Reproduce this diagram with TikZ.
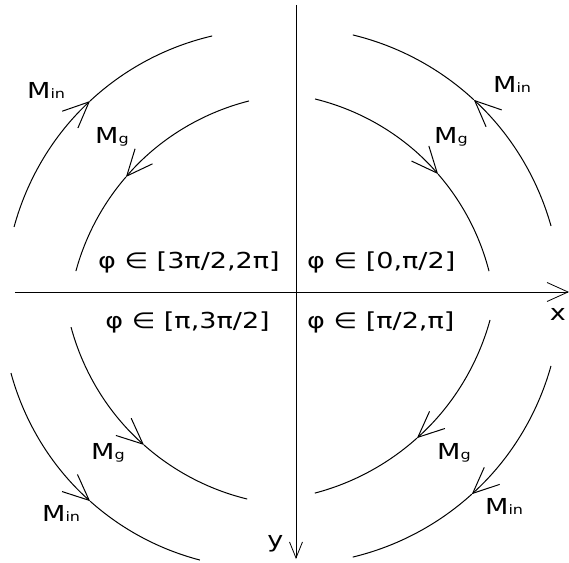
\documentclass[tikz,border=0pt]{standalone}
\usepackage{fontspec}
\setmainfont{DejaVu Sans}[FakeStretch=1.23]
\usepackage{tikz}
\usetikzlibrary{arrows.meta}
\newcommand{\subidx}[1]{{\fontsize{13}{13}\selectfont #1}}

\begin{document}
\begin{tikzpicture}[x=1pt, y=1pt,
  arcline/.style={line width=1pt},
  flow/.style={arcline, -{Straight Barb[length=26pt, width=23pt]}},
  axis/.style={line width=0.8pt},
  lbl/.style={inner sep=0pt, font=\fontsize{22}{26}\selectfont}
]
  \useasboundingbox (-296,-270) rectangle (273,292);
  \coordinate (xleft) at (-281,0);
  \coordinate (xright) at (273,0);
  \coordinate (ytop) at (0,287);
  \coordinate (ybottom) at (0,-267);
  \draw[axis, -{Straight Barb[length=21pt, width=19pt]}] (xleft) -- (xright);
  \draw[axis, -{Straight Barb[length=16pt, width=13pt]}] (ytop) -- (ybottom);
  \node[lbl, anchor=base] (xlabel) at (262,-28) {x};
  \node[lbl, anchor=base] (ylabel) at (-20.5,-255) {y};
  % upper left
  \draw[flow] ([shift={(-23.1,-5.2)}]164.8:268.2) arc[start angle=164.8, end angle=133.0, radius=268.2];
  \draw[arcline] ([shift={(-23.1,-5.2)}]133.0:268.2) arc[start angle=133.0, end angle=103.1, radius=268.2];
  \draw[flow] ([shift={(12.0,-42.1)}]104.2:240.5) arc[start angle=104.2, end angle=139.2, radius=240.5];
  \draw[arcline] ([shift={(12.0,-42.1)}]139.2:240.5) arc[start angle=139.2, end angle=164.8, radius=240.5];
  \node[lbl, anchor=base west] (minUL) at (-269,193) {M\subidx{in}};
  \node[lbl, anchor=base west] (mgUL) at (-201,148) {M\subidx{g}};
  \node[lbl, anchor=base east] (phiUL) at (-16,24) {φ ∈ [3π/2,2π]};
  % upper right
  \draw[flow] ([shift={(-7.2,-7.7)}]15.7:272.4) arc[start angle=15.7, end angle=47.2, radius=272.4];
  \draw[arcline] ([shift={(-7.2,-7.7)}]47.2:272.4) arc[start angle=47.2, end angle=76.4, radius=272.4];
  \draw[flow] ([shift={(-37.8,-38.4)}]76.2:238.3) arc[start angle=76.2, end angle=41.0, radius=238.3];
  \draw[arcline] ([shift={(-37.8,-38.4)}]41.0:238.3) arc[start angle=41.0, end angle=14.4, radius=238.3];
  \node[lbl, anchor=base west] (minUR) at (197,199) {M\subidx{in}};
  \node[lbl, anchor=base west] (mgUR) at (138,148) {M\subidx{g}};
  \node[lbl, anchor=base west] (phiUR) at (11,24) {φ ∈ [0,π/2]};
  % lower right
  \draw[flow] ([shift={(-43.8,37.5)}]-15.4:246.7) arc[start angle=-15.4, end angle=-48.1, radius=246.7];
  \draw[arcline] ([shift={(-43.8,37.5)}]-48.1:246.7) arc[start angle=-48.1, end angle=-75.3, radius=246.7];
  \draw[flow] ([shift={(-6.7,-0.9)}]-15.6:271.7) arc[start angle=-15.6, end angle=-47.8, radius=271.7];
  \draw[arcline] ([shift={(-6.7,-0.9)}]-47.8:271.7) arc[start angle=-47.8, end angle=-76.5, radius=271.7];
  \node[lbl, anchor=base west] (mgLR) at (141,-167) {M\subidx{g}};
  \node[lbl, anchor=base west] (minLR) at (189,-222) {M\subidx{in}};
  \node[lbl, anchor=base west] (phiLR) at (11,-36) {φ ∈ [π/2,π]};
  % lower left
  \draw[flow] ([shift={(8.4,27.8)}]-164.9:241.7) arc[start angle=-164.9, end angle=-131.6, radius=241.7];
  \draw[arcline] ([shift={(8.4,27.8)}]-131.6:241.7) arc[start angle=-131.6, end angle=-103.7, radius=241.7];
  \draw[flow] ([shift={(-29.3,-11.6)}]-164.8:265.0) arc[start angle=-164.8, end angle=-131.8, radius=265.0];
  \draw[arcline] ([shift={(-29.3,-11.6)}]-131.8:265.0) arc[start angle=-131.8, end angle=-104.6, radius=265.0];
  \node[lbl, anchor=base west] (mgLL) at (-205,-167) {M\subidx{g}};
  \node[lbl, anchor=base west] (minLL) at (-254,-229) {M\subidx{in}};
  \node[lbl, anchor=base east] (phiLL) at (-26,-36) {φ ∈ [π,3π/2]};
\end{tikzpicture}
\end{document}
